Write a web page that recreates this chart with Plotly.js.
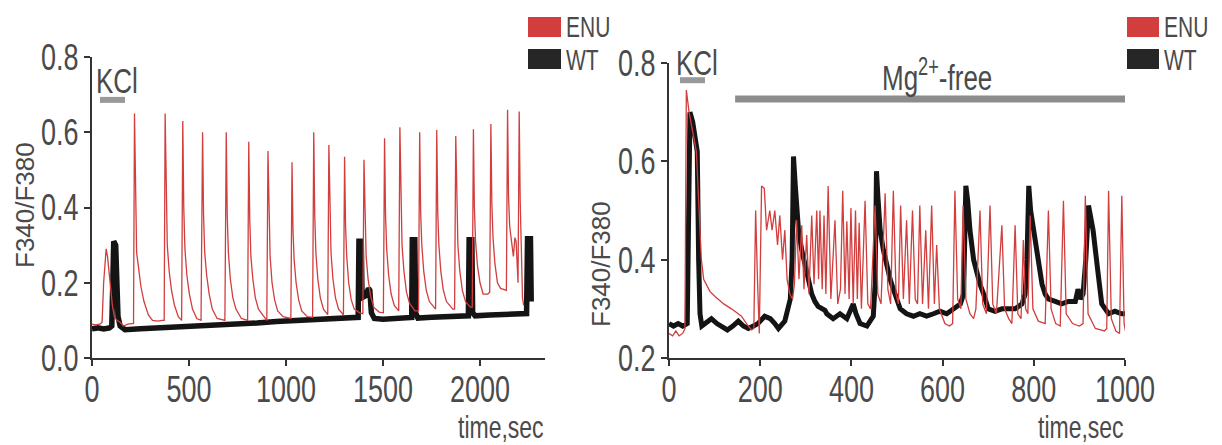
<!DOCTYPE html>
<html>
<head>
<meta charset="utf-8">
<script src="https://cdn.plot.ly/plotly-3.0.1.min.js"></script>
<style>html,body{margin:0;padding:0;background:#fff;}#chart{width:1222px;height:445px;}</style>
</head>
<body>
<div id="chart"></div>
<script>
// ---------- DATA ----------
// Left panel, ENU (red) trace: time (s) and F340/F380
const leftEnuTime = [0,20,40,52,60,73,80,88,96,105,115,128,145,162,185,205,214,219,224,230,240,252,268,290,312,340,360,372,377,382,388,398,410,425,445,462,468,473,479,489,502,518,540,562,570,575,581,591,604,620,645,685,692,697,703,713,726,742,770,802,808,813,819,829,842,858,885,901,907,912,918,928,941,957,985,1025,1031,1036,1042,1052,1065,1081,1110,1137,1143,1148,1154,1164,1177,1193,1215,1221,1226,1232,1242,1255,1271,1296,1302,1307,1313,1323,1336,1352,1380,1396,1402,1407,1413,1423,1436,1452,1480,1502,1508,1513,1519,1529,1542,1558,1581,1587,1592,1598,1608,1621,1637,1665,1683,1689,1694,1700,1710,1723,1739,1771,1777,1782,1788,1798,1811,1827,1860,1869,1875,1880,1886,1896,1909,1925,1950,1960,1966,1971,1977,1987,2000,2016,2040,2050,2056,2061,2067,2077,2090,2106,2128,2136,2142,2147,2153,2163,2172,2180,2186,2196,2202,2207,2213,2219,2225];
const leftEnuRatio = [0.09,0.088,0.09,0.095,0.2,0.29,0.27,0.23,0.18,0.14,0.11,0.1,0.095,0.085,0.09,0.09,0.092,0.65,0.42,0.28,0.24,0.19,0.15,0.115,0.1,0.098,0.1,0.1,0.65,0.42,0.3,0.23,0.18,0.14,0.11,0.1,0.63,0.4,0.29,0.22,0.17,0.13,0.105,0.1,0.60,0.38,0.28,0.22,0.17,0.13,0.105,0.1,0.60,0.38,0.28,0.21,0.16,0.13,0.105,0.1,0.575,0.37,0.27,0.21,0.16,0.13,0.11,0.1,0.55,0.36,0.27,0.2,0.155,0.125,0.11,0.105,0.52,0.34,0.26,0.2,0.155,0.125,0.11,0.108,0.60,0.38,0.28,0.21,0.16,0.13,0.115,0.566,0.37,0.28,0.21,0.16,0.13,0.115,0.535,0.35,0.27,0.2,0.155,0.13,0.12,0.118,0.527,0.35,0.27,0.21,0.165,0.135,0.122,0.12,0.584,0.38,0.29,0.22,0.17,0.14,0.125,0.613,0.40,0.3,0.23,0.175,0.145,0.125,0.125,0.60,0.39,0.3,0.23,0.18,0.15,0.13,0.606,0.39,0.3,0.23,0.18,0.15,0.13,0.13,0.59,0.39,0.3,0.23,0.18,0.15,0.135,0.135,0.608,0.4,0.31,0.245,0.2,0.17,0.17,0.175,0.622,0.41,0.32,0.25,0.2,0.185,0.18,0.18,0.66,0.43,0.35,0.3,0.27,0.32,0.31,0.2,0.655,0.42,0.3,0.16,0.14];

// Left panel, WT (black) trace
const leftWtTime = [0,30,60,90,102,106,112,122,128,134,145,170,250,350,450,550,650,750,850,950,1050,1150,1250,1350,1372,1376,1388,1392,1410,1425,1432,1440,1455,1500,1600,1648,1651,1664,1668,1680,1750,1850,1940,1944,1958,1962,1975,2050,2150,2240,2245,2260,2264];
const leftWtRatio = [0.078,0.08,0.077,0.08,0.085,0.25,0.31,0.30,0.2,0.11,0.085,0.075,0.078,0.08,0.083,0.085,0.088,0.09,0.093,0.097,0.1,0.102,0.104,0.106,0.108,0.31,0.31,0.16,0.165,0.185,0.18,0.12,0.105,0.103,0.105,0.108,0.314,0.314,0.12,0.106,0.108,0.11,0.112,0.314,0.314,0.12,0.112,0.114,0.116,0.118,0.317,0.317,0.15];

// Right panel, ENU (red) trace
const rightEnuTime = [0,8,15,22,30,35,38,44,52,60,66,71,76,90,101,120,137,150,159,170,181,186,190,194,198,203,209,214,221,226,232,238,243,249,254,259,265,271,275,280,285,291,296,302,307,313,318,324,328,331,336,340,344,349,355,364,370,376,381,386,390,395,399,404,409,413,417,422,430,436,442,452,458,465,474,480,486,492,498,503,508,514,521,527,534,540,545,550,556,563,569,576,582,587,593,605,615,622,627,633,640,645,651,660,668,673,682,688,696,704,710,718,730,736,745,752,759,765,772,777,782,787,792,798,810,825,832,838,848,858,865,871,885,900,908,913,919,935,955,960,964,970,980,988,993,998,1002];
const rightEnuRatio = [0.25,0.245,0.255,0.245,0.25,0.26,0.745,0.70,0.66,0.62,0.50,0.40,0.36,0.335,0.325,0.31,0.30,0.29,0.285,0.27,0.257,0.26,0.50,0.36,0.25,0.55,0.545,0.46,0.50,0.46,0.50,0.43,0.49,0.40,0.46,0.36,0.33,0.32,0.35,0.48,0.36,0.47,0.34,0.45,0.33,0.49,0.35,0.50,0.36,0.50,0.34,0.49,0.33,0.55,0.32,0.48,0.31,0.34,0.54,0.33,0.478,0.32,0.505,0.31,0.50,0.32,0.475,0.30,0.52,0.31,0.30,0.51,0.33,0.31,0.535,0.34,0.31,0.54,0.33,0.31,0.51,0.32,0.48,0.31,0.50,0.32,0.31,0.51,0.31,0.46,0.30,0.51,0.31,0.43,0.30,0.27,0.265,0.27,0.54,0.32,0.30,0.51,0.32,0.29,0.28,0.30,0.50,0.31,0.29,0.51,0.31,0.29,0.47,0.30,0.28,0.27,0.47,0.29,0.28,0.44,0.30,0.29,0.49,0.30,0.275,0.27,0.50,0.30,0.27,0.265,0.52,0.29,0.27,0.265,0.27,0.53,0.29,0.26,0.255,0.26,0.54,0.28,0.255,0.25,0.53,0.27,0.25];

// Right panel, WT (black) trace
const rightWtTime = [0,10,20,30,40,43,46,52,58,62,65,68,72,80,93,105,115,128,140,152,163,174,185,195,210,222,232,240,254,262,266,270,273,277,284,291,298,306,313,320,327,342,346,360,375,390,404,410,419,434,448,452,455,458,463,470,477,485,492,500,507,521,536,550,565,580,594,609,624,639,646,651,655,660,668,675,682,690,700,715,730,744,759,774,781,785,789,793,800,810,818,825,832,847,861,876,891,897,902,908,914,920,925,930,940,949,964,978,993,1004];
const rightWtRatio = [0.27,0.265,0.27,0.265,0.27,0.45,0.70,0.68,0.65,0.62,0.40,0.29,0.265,0.27,0.28,0.27,0.265,0.257,0.265,0.275,0.265,0.26,0.265,0.27,0.285,0.28,0.27,0.26,0.275,0.30,0.32,0.40,0.61,0.55,0.46,0.42,0.39,0.36,0.33,0.315,0.305,0.297,0.29,0.28,0.29,0.28,0.31,0.29,0.27,0.265,0.285,0.35,0.58,0.53,0.46,0.42,0.39,0.36,0.34,0.32,0.30,0.29,0.285,0.29,0.285,0.29,0.295,0.29,0.30,0.31,0.33,0.55,0.52,0.46,0.40,0.37,0.35,0.33,0.30,0.295,0.30,0.30,0.30,0.31,0.33,0.40,0.55,0.50,0.46,0.39,0.35,0.33,0.32,0.315,0.31,0.315,0.315,0.34,0.32,0.33,0.40,0.51,0.48,0.46,0.38,0.31,0.29,0.295,0.29,0.29];

// Axis ticks
const leftXTicks = [0,500,1000,1500,2000];
const leftYTicks = [0.0,0.2,0.4,0.6,0.8];
const rightXTicks = [0,200,400,600,800,1000];
const rightYTicks = [0.2,0.4,0.6,0.8];
const seriesNames = ['ENU','WT'];

// ---------- STYLE ----------
const W = 1222, H = 445;
const RED = '#d23d3d', BLACK = '#141414', GREY = '#999999', AXIS = '#333333', TXT = '#4a4a4a';
const FONT = 'Liberation Sans, Arial, sans-serif';
const STRETCH = 1.38;   // the reference's lettering is tall and narrow
const px = v => v / W, py = v => 1 - v / H;

const traces = [
  {x: leftWtTime, y: leftWtRatio, xaxis: 'x', yaxis: 'y', name: seriesNames[1], mode: 'lines', line: {color: BLACK, width: 5.5}},
  {x: leftEnuTime, y: leftEnuRatio, xaxis: 'x', yaxis: 'y', name: seriesNames[0], mode: 'lines', line: {color: RED, width: 1.3}},
  {x: rightWtTime, y: rightWtRatio, xaxis: 'x2', yaxis: 'y2', name: seriesNames[1], mode: 'lines', line: {color: BLACK, width: 5}},
  {x: rightEnuTime, y: rightEnuRatio, xaxis: 'x2', yaxis: 'y2', name: seriesNames[0], mode: 'lines', line: {color: RED, width: 1.3}}
];

const axisCommon = {
  showgrid: false, zeroline: false, showline: true, linecolor: AXIS, linewidth: 2,
  ticks: 'outside', ticklen: 6, tickwidth: 2, tickcolor: AXIS,
  tickfont: {family: FONT, size: 27, color: TXT}, fixedrange: true
};

function note(text, xref, yref, x, y, size, extra) {
  return Object.assign({text: text, xref: xref, yref: yref, x: x, y: y, showarrow: false,
    xanchor: 'center', yanchor: 'middle', font: {family: FONT, size: size, color: TXT}}, extra || {});
}

const layout = {
  width: W, height: H, margin: {l: 0, r: 0, t: 0, b: 0},
  paper_bgcolor: '#fff', plot_bgcolor: '#fff', showlegend: false,
  xaxis: Object.assign({}, axisCommon, {domain: [px(92), px(545)], range: [0, 2335], tickvals: leftXTicks, ticktext: leftXTicks.map(String), anchor: 'y'}),
  yaxis: Object.assign({}, axisCommon, {domain: [py(358), py(57)], range: [0, 0.8], tickvals: leftYTicks, ticktext: leftYTicks.map(v => v.toFixed(1)), anchor: 'x'}),
  xaxis2: Object.assign({}, axisCommon, {domain: [px(669), px(1125)], range: [0, 1000], tickvals: rightXTicks, ticktext: rightXTicks.map(String), anchor: 'y2'}),
  yaxis2: Object.assign({}, axisCommon, {domain: [py(358), py(63)], range: [0.2, 0.8], tickvals: rightYTicks, ticktext: rightYTicks.map(v => v.toFixed(1)), anchor: 'x2'}),
  shapes: [
    // treatment bars
    {type: 'line', xref: 'x', yref: 'y', x0: 41, x1: 170, y0: 0.686, y1: 0.686, line: {color: GREY, width: 6}},
    {type: 'line', xref: 'x2', yref: 'y2', x0: 24, x1: 79, y0: 0.765, y1: 0.765, line: {color: GREY, width: 6}},
    {type: 'line', xref: 'x2', yref: 'y2', x0: 145, x1: 1006, y0: 0.727, y1: 0.727, line: {color: '#8c8c8c', width: 7}},
    // legend swatches
    {type: 'rect', xref: 'paper', yref: 'paper', x0: px(528), x1: px(561), y0: py(37), y1: py(17), fillcolor: RED, line: {width: 0}},
    {type: 'rect', xref: 'paper', yref: 'paper', x0: px(528), x1: px(561), y0: py(69), y1: py(49), fillcolor: '#262626', line: {width: 0}},
    {type: 'rect', xref: 'paper', yref: 'paper', x0: px(1127), x1: px(1159), y0: py(37), y1: py(17), fillcolor: RED, line: {width: 0}},
    {type: 'rect', xref: 'paper', yref: 'paper', x0: px(1127), x1: px(1159), y0: py(69), y1: py(49), fillcolor: '#262626', line: {width: 0}}
  ],
  annotations: [
    note('KCl', 'x', 'y', 129, 0.735, 26),
    note('KCl', 'x2', 'y2', 61, 0.80, 26),
    note('Mg<sup>2+</sup>-free', 'x2', 'y2', 588, 0.775, 26),
    note('F340/F380', 'paper', 'paper', px(25), py(205), 26, {textangle: -90}),
    note('F340/F380', 'paper', 'paper', px(601), py(264), 26, {textangle: -90}),
    note('time,sec', 'paper', 'paper', px(546), py(427), 23, {xanchor: 'right'}),
    note('time,sec', 'paper', 'paper', px(1126), py(427), 23, {xanchor: 'right'}),
    note(seriesNames[0], 'paper', 'paper', px(564), py(27), 21, {xanchor: 'left'}),
    note(seriesNames[1], 'paper', 'paper', px(564), py(59), 21, {xanchor: 'left'}),
    note(seriesNames[0], 'paper', 'paper', px(1162), py(27), 21, {xanchor: 'left'}),
    note(seriesNames[1], 'paper', 'paper', px(1162), py(59), 21, {xanchor: 'left'})
  ]
};

Plotly.newPlot('chart', traces, layout, {staticPlot: true, displayModeBar: false}).then(function (gd) {
  // stretch horizontal lettering vertically about its own centre
  const nodes = Array.from(gd.querySelectorAll('.xtick text, .ytick text, .x2tick text, .y2tick text'));
  gd.querySelectorAll('.annotation').forEach(function (a) {
    const i = +a.getAttribute('data-index');
    if (!layout.annotations[i].textangle) nodes.push(a.querySelector('text'));
  });
  nodes.forEach(function (t) {
    if (!t) return;
    const b = t.getBBox();
    const cy = b.y + b.height / 2;
    const tr = t.getAttribute('transform') || '';
    t.setAttribute('transform', tr + ' translate(0,' + cy + ') scale(1,' + STRETCH + ') translate(0,' + (-cy) + ')');
  });
});
</script>
</body>
</html>
